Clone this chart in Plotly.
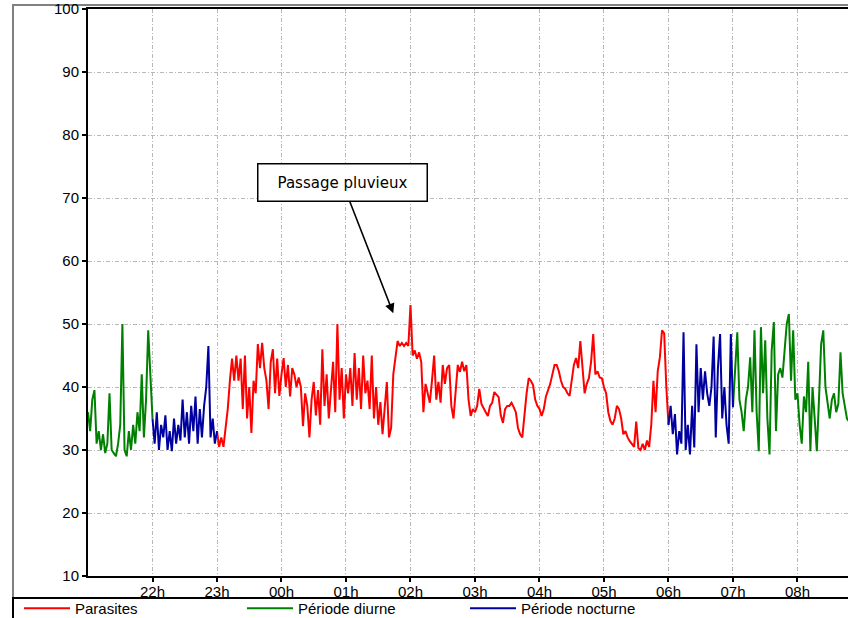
import datetime as dt
import plotly.graph_objects as go

# ---------------- data (2-minute sampling) ----------------
STEP_MIN = 2
green_evening_start = "2000-01-01 21:00"
green_evening = [36, 33, 38, 39.5, 31, 33, 30, 32.5, 29.5, 31, 39, 30, 29.5, 29, 31, 34,
                 50, 30, 29, 33, 30, 34, 31, 36, 33, 42, 32, 38, 49, 41, 35]

blue_evening_start = "2000-01-01 22:00"
blue_evening = [35, 31, 36, 30, 34, 32, 35.5, 30, 33, 29.8, 35, 31, 34, 31.5, 38, 32,
                36, 31, 37, 33, 38.5, 31, 36.5, 32, 37, 40, 46.5, 32, 35, 31, 33]

red_start = "2000-01-01 23:00"
red_night = [33, 30.5, 32, 30.5, 33.5, 36.5, 41, 44.5, 41, 45,
             41, 44.5, 36.5, 45, 35, 40, 32.7, 41, 39, 46.8,
             43, 47, 43, 41, 36.5, 44, 46, 39, 44.5, 38.6,
             42, 44.6, 40, 43.5, 38.5, 43, 42, 40, 41.5, 40,
             33.8, 39, 37, 32, 38, 40.8, 35.5, 39.5, 34, 46,
             37, 42, 35, 40, 44, 36, 50, 38, 43, 35,
             42, 39, 43, 37, 45.4, 38, 43, 36.5, 45, 39,
             41, 36.5, 45, 35, 40, 34, 37.6, 32.5, 37, 40.8,
             32, 33.5, 42, 44.6, 47.3, 46.5, 47, 46.5, 47, 46.5,
             53, 45, 45.8, 44.5, 45.5, 44, 36, 40.5, 39, 37.5,
             41, 45, 38, 40.8, 37.5, 43.5, 40.5, 43, 43.5, 37,
             35, 39, 43.5, 42.4, 44, 42.5, 43.5, 38, 35.4, 36.5,
             36, 37, 39.7, 37.3, 36.5, 36, 35.4, 37, 37.5, 39.2,
             38.8, 38.4, 35.5, 34.3, 36.5, 37, 37, 37.5, 36.8, 36,
             33.5, 32.5, 32, 36, 39, 41.4, 41, 40.3, 38, 37,
             36.5, 35.4, 36.5, 38.5, 39.5, 40.5, 42, 43.5, 43.5, 42.5,
             41, 40, 39.7, 39, 38.6, 41, 43.5, 44.6, 43, 47.3,
             43, 39, 40.5, 41.4, 44, 48.4, 42, 42.5, 41.5, 41.4,
             40, 39, 36, 34.6, 34, 35, 37, 36.5, 35, 32.5,
             33, 32, 31.4, 31, 30.5, 34.5, 30.3, 30, 31, 30,
             31.5, 30.5, 34, 41, 36, 42.5, 44.7, 49, 48.5, 40,
             34]

blue_morning_start = "2000-01-02 06:00"
blue_morning = [34, 37, 32.5, 35.7, 29.3, 33, 31, 48.7, 30, 34, 29.3, 37, 30.4, 46.8,
                36, 43, 38, 42.5, 39, 37, 40, 48, 32, 43, 48.4, 35, 40, 34, 31, 48.4, 36.8]

green_morning_start = "2000-01-02 07:00"
green_morning = [36.8, 42, 48.7, 38, 36, 33, 38, 40, 44.7, 36, 49, 36, 29.8, 49.5, 39,
                 47.4, 35, 29.3, 45.8, 50.3, 33, 42, 43, 41.5, 46, 50, 51.6, 41, 49, 38,
                 39, 34, 31, 38.5, 36, 44, 29.8, 40, 35, 29.8, 38, 46.8, 49, 40, 37.5,
                 35, 38, 39, 36, 37.3, 45.5, 39, 37, 35, 34.5]

x_range = ["2000-01-01 21:00", "2000-01-02 08:47"]
tick_times = ["2000-01-01 22:00", "2000-01-01 23:00", "2000-01-02 00:00", "2000-01-02 01:00",
              "2000-01-02 02:00", "2000-01-02 03:00", "2000-01-02 04:00", "2000-01-02 05:00",
              "2000-01-02 06:00", "2000-01-02 07:00", "2000-01-02 08:00"]
tick_labels = ["22h", "23h", "00h", "01h", "02h", "03h", "04h", "05h", "06h", "07h", "08h"]
y_ticks = [10, 20, 30, 40, 50, 60, 70, 80, 90, 100]

annot_time = "2000-01-02 01:44"
annot_value = 51.7
annot_text = "Passage pluvieux"


def times(start, n):
    t0 = dt.datetime.strptime(start, "%Y-%m-%d %H:%M")
    return [t0 + dt.timedelta(minutes=STEP_MIN * i) for i in range(n)]


def join(*segs):
    xs, ys = [], []
    for start, vals in segs:
        if xs:
            xs.append(None)
            ys.append(None)
        xs += times(start, len(vals))
        ys += vals
    return xs, ys


RED = "#ff0000"
GREEN = "#008000"
BLUE = "#0000a0"
LW = 2

fig = go.Figure()
rx, ry = join((red_start, red_night))
gx, gy = join((green_evening_start, green_evening), (green_morning_start, green_morning))
bx, by = join((blue_evening_start, blue_evening), (blue_morning_start, blue_morning))

fig.add_trace(go.Scatter(x=rx, y=ry, mode="lines", name="Parasites",
                         line=dict(color=RED, width=LW)))
fig.add_trace(go.Scatter(x=gx, y=gy, mode="lines", name="Période diurne",
                         line=dict(color=GREEN, width=LW)))
fig.add_trace(go.Scatter(x=bx, y=by, mode="lines", name="Période nocturne",
                         line=dict(color=BLUE, width=LW)))

PL, PR, PT, PB = 88, 848, 9, 576
W, H = 848, 618


def px(x):
    return (x - PL) / (PR - PL)


def py(y):
    return (PB - y) / (PB - PT)


shapes = [
    # outer grey frame
    dict(type="rect", xref="paper", yref="paper", x0=px(13), x1=px(860), y0=py(598), y1=py(5),
         line=dict(color="#808080", width=2), layer="below"),
    # legend box
    dict(type="rect", xref="paper", yref="paper", x0=px(13), x1=px(860), y0=py(630), y1=py(598),
         line=dict(color="#000000", width=2)),
]

GRID = "#b8b8b8"
fig.update_layout(
    width=W, height=H,
    margin=dict(l=PL, r=W - PR, t=PT, b=H - PB, autoexpand=False),
    paper_bgcolor="white", plot_bgcolor="white",
    font=dict(family="Liberation Sans, Arial, sans-serif", size=15, color="#000000"),
    showlegend=True,
    legend=dict(orientation="h", x=px(19), xanchor="left", y=py(625), yanchor="bottom",
                entrywidth=162, entrywidthmode="pixels", bgcolor="rgba(0,0,0,0)",
                itemwidth=46, font=dict(size=15), tracegroupgap=0),
    shapes=shapes,
    xaxis=dict(type="date", range=x_range, tickvals=tick_times, ticktext=tick_labels,
               showgrid=True, gridcolor=GRID, griddash="4px,2px,1px,2px", gridwidth=1,
               showline=True, linecolor="#000000", linewidth=2, mirror=True,
               ticks="outside", ticklen=4, tickcolor="#000000", tickwidth=2,
               ticklabelstandoff=-3,
               zeroline=False, fixedrange=True, automargin=False),
    yaxis=dict(range=[10, 100], tickvals=y_ticks,
               showgrid=True, gridcolor=GRID, griddash="4px,2px,1px,2px", gridwidth=1,
               showline=True, linecolor="#000000", linewidth=2, mirror=False,
               ticks="outside", ticklen=4, tickcolor="#000000", tickwidth=2,
               zeroline=False, fixedrange=True, automargin=False),
    annotations=[dict(x=annot_time, y=annot_value, xref="x", yref="y",
                      text=annot_text, showarrow=True, arrowhead=2, arrowsize=1.2,
                      arrowwidth=1.6, arrowcolor="#000000", ax=-51, ay=-131,
                      font=dict(family="DejaVu Sans, sans-serif", size=15, color="#000000"),
                      bgcolor="white", bordercolor="#000000", borderwidth=1.5,
                      borderpad=9, width=150, height=18)],
)

fig.write_html("out.html", config={"displayModeBar": False},
               post_script="document.body.style.margin='0';document.body.style.overflow='hidden';")
